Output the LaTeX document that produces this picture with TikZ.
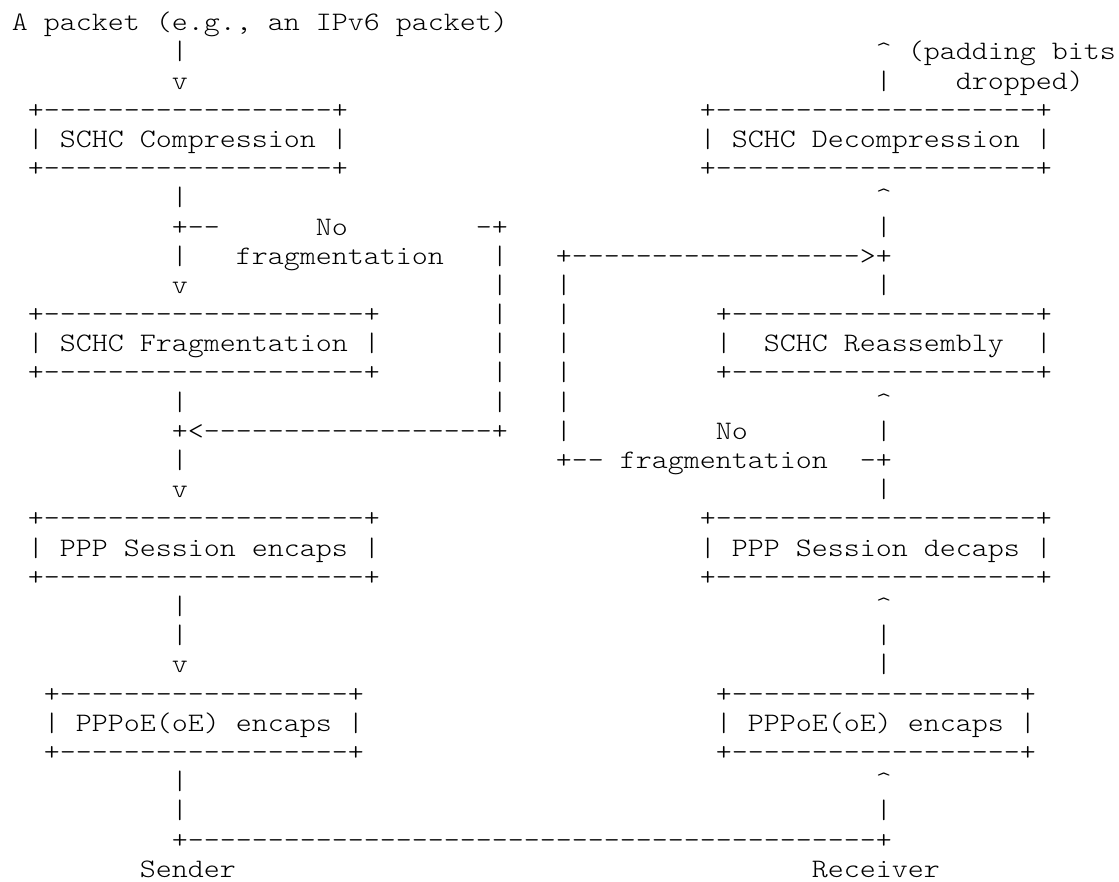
\documentclass[tikz,border=0pt]{standalone}
\usepackage{fontspec}
\setmonofont{lmmonolt10-regular.otf}[FakeStretch=1.1429]
\usetikzlibrary{positioning}
% n empty character cells / n dashes
\newcommand\blank[1]{\hspace*{#1\fontcharwd\font`M}}
\newcommand\dashrun[1]{\foreach\k in {1,...,#1}{-}}

\begin{document}
\begin{tikzpicture}[
    x=6pt, y=10.95pt,
    every node/.style={anchor=base west, inner sep=0pt, font=\ttfamily\fontsize{10}{10.95}\selectfont}
]
    \useasboundingbox (-4.3pt,-319.3pt) rectangle (415.4pt,11.5pt);
    \node (r0)  at (0,0)   {A packet (e.g., an IPv6 packet)};
    \node (r1)  at (0,-1)  {\blank{10}|\blank{43}\textasciicircum\blank{1}(padding bits};
    \node (r2)  at (0,-2)  {\blank{10}v\blank{43}|\blank{4}dropped)};
    \node (r3)  at (0,-3)  {\blank{1}+\dashrun{18}+\blank{22}+\dashrun{20}+};
    \node (r4)  at (0,-4)  {\blank{1}| SCHC Compression |\blank{22}| SCHC Decompression |};
    \node (r5)  at (0,-5)  {\blank{1}+\dashrun{18}+\blank{22}+\dashrun{20}+};
    \node (r6)  at (0,-6)  {\blank{10}|\blank{43}\textasciicircum};
    \node (r7)  at (0,-7)  {\blank{10}+--\blank{6}No\blank{8}-+\blank{23}|};
    \node (r8)  at (0,-8)  {\blank{10}|\blank{3}fragmentation\blank{3}|\blank{3}+\dashrun{18}>+};
    \node (r9)  at (0,-9)  {\blank{10}v\blank{19}|\blank{3}|\blank{19}|};
    \node (r10) at (0,-10) {\blank{1}+\dashrun{20}+\blank{7}|\blank{3}|\blank{9}+\dashrun{19}+};
    \node (r11) at (0,-11) {\blank{1}| SCHC Fragmentation |\blank{7}|\blank{3}|\blank{9}|\blank{2}SCHC Reassembly\blank{2}|};
    \node (r12) at (0,-12) {\blank{1}+\dashrun{20}+\blank{7}|\blank{3}|\blank{9}+\dashrun{19}+};
    \node (r13) at (0,-13) {\blank{10}|\blank{19}|\blank{3}|\blank{19}\textasciicircum};
    \node (r14) at (0,-14) {\blank{10}+<\dashrun{18}+\blank{3}|\blank{9}No\blank{8}|};
    \node (r15) at (0,-15) {\blank{10}|\blank{23}+--\blank{1}fragmentation\blank{2}-+};
    \node (r16) at (0,-16) {\blank{10}v\blank{43}|};
    \node (r17) at (0,-17) {\blank{1}+\dashrun{20}+\blank{20}+\dashrun{20}+};
    \node (r18) at (0,-18) {\blank{1}| PPP Session encaps |\blank{20}| PPP Session decaps |};
    \node (r19) at (0,-19) {\blank{1}+\dashrun{20}+\blank{20}+\dashrun{20}+};
    \node (r20) at (0,-20) {\blank{10}|\blank{43}\textasciicircum};
    \node (r21) at (0,-21) {\blank{10}|\blank{43}|};
    \node (r22) at (0,-22) {\blank{10}v\blank{43}|};
    \node (r23) at (0,-23) {\blank{2}+\dashrun{18}+\blank{22}+\dashrun{18}+};
    \node (r24) at (0,-24) {\blank{2}| PPPoE(oE) encaps |\blank{22}| PPPoE(oE) encaps |};
    \node (r25) at (0,-25) {\blank{2}+\dashrun{18}+\blank{22}+\dashrun{18}+};
    \node (r26) at (0,-26) {\blank{10}|\blank{43}\textasciicircum};
    \node (r27) at (0,-27) {\blank{10}|\blank{43}|};
    \node (r28) at (0,-28) {\blank{10}+\dashrun{43}+};
    \node (r29) at (0,-29) {\blank{8}Sender\blank{36}Receiver};
\end{tikzpicture}
\end{document}
